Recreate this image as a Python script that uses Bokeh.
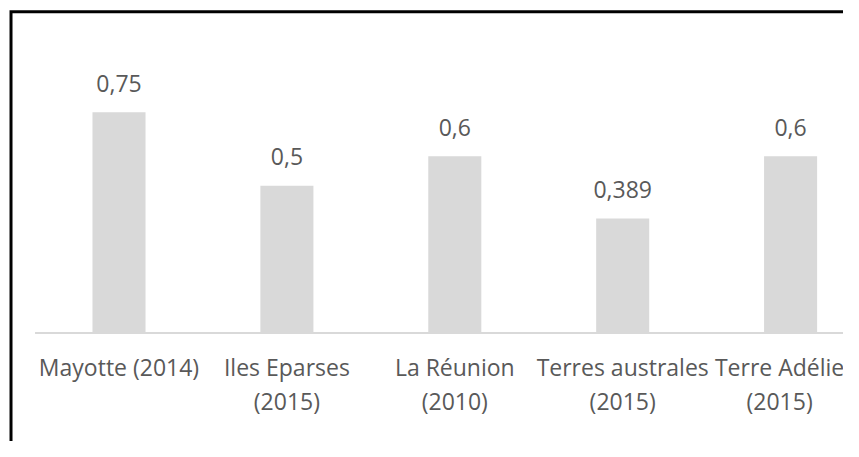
from bokeh.plotting import figure
from bokeh.models import Range1d, ColumnDataSource
from bokeh.core.properties import value
from bokeh.embed import file_html
from bokeh.resources import INLINE

# ---- data ----
categories = ["Mayotte (2014)", "Iles Eparses (2015)", "La Réunion (2010)",
              "Terres australes (2015)", "Terre Adélie (2015)"]
label_line1 = ["Mayotte (2014)", "Iles Eparses", "La Réunion", "Terres australes", "Terre Adélie"]
label_line2 = ["", "(2015)", "(2010)", "(2015)", "(2015)"]
values = [0.75, 0.5, 0.6, 0.389, 0.6]
value_labels = ["0,75", "0,5", "0,6", "0,389", "0,6"]

# ---- layout / style ----
W, H = 843, 441
FONT = "Open Sans"
FS = "23px"
TXT = "#595959"
BAR = "#d9d9d9"
label_shift = [0, 0, 0, 0, -11]   # keep the last label inside the canvas

xpos = [i + 0.5 for i in range(len(categories))]

p = figure(width=W, height=H, output_backend="svg", toolbar_location=None,
           x_range=Range1d(-0.2058, 4.8151), y_range=Range1d(-0.3685, 1.1294),
           min_border=0, min_border_left=0, min_border_right=0,
           min_border_top=0, min_border_bottom=0)
p.xaxis.visible = False
p.yaxis.visible = False
p.grid.visible = False
p.outline_line_color = None
p.background_fill_color = "white"
p.border_fill_color = "white"

src = ColumnDataSource(dict(x=xpos, top=values, lab=value_labels,
                            l1=label_line1, l2=label_line2, dx=label_shift,
                            zero=[0] * len(values)))

p.vbar(x="x", top="top", bottom=0, width=0.316, source=src,
       fill_color=BAR, line_color=None)

# baseline (category axis line)
p.segment(x0=[0], y0=[0], x1=[len(categories) + 1], y1=[0],
          line_color=BAR, line_width=2)

# value labels
p.text(x="x", y="top", text="lab", source=src, text_align="center",
       text_baseline="alphabetic", y_offset=-29,
       text_font=value(FONT), text_font_size=FS, text_color=TXT)

# category labels
p.text(x="x", y="zero", text="l1", source=src, text_align="center",
       text_baseline="alphabetic", y_offset=34, x_offset="dx",
       text_font=value(FONT), text_font_size=FS, text_color=TXT)
p.text(x="x", y="zero", text="l2", source=src, text_align="center",
       text_baseline="alphabetic", y_offset=68, x_offset="dx",
       text_font=value(FONT), text_font_size=FS, text_color=TXT)

# chart frame (left and top border)
p.line(x=[-0.1432, -0.1432, 6], y=[-1, 1.091, 1.091],
       line_color="black", line_width=3, line_join="miter")

open("out.html", "w").write(file_html(p, INLINE))
